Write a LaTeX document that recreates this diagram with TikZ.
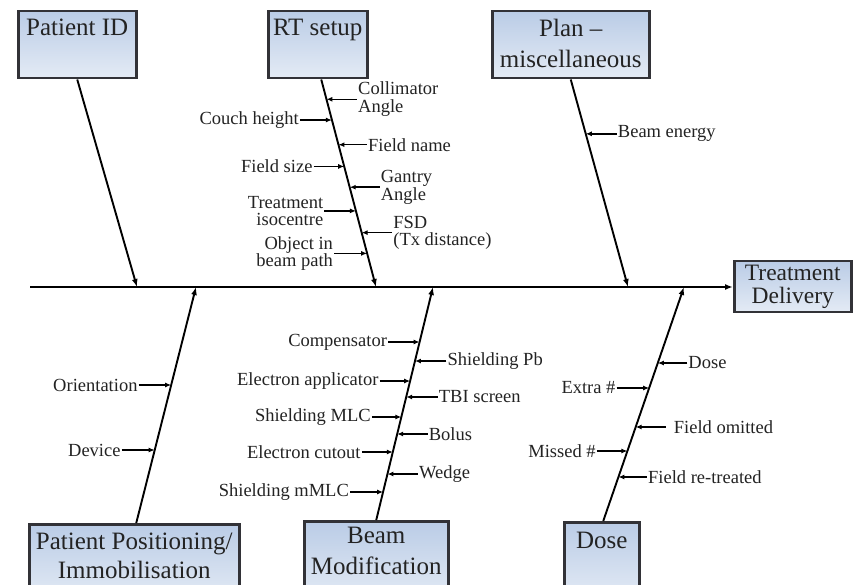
\documentclass[tikz,border=0pt]{standalone}
\usepackage{fontspec}
\setmainfont{Liberation Serif}
\usetikzlibrary{arrows.meta,calc}
\definecolor{boxtop}{RGB}{186,204,230}
\definecolor{boxbot}{RGB}{228,235,245}
\definecolor{boxline}{RGB}{50,50,55}
\definecolor{ink}{RGB}{35,35,35}
\newcommand\fbbox[4]{\parbox[c][#2][t]{#1}{\centering\rule{0pt}{#3}#4}}
\newcommand\fbR[6]{%
  \coordinate (#1p) at ($(#2)!{#4}!(#3)$);
  \node[lab,anchor=west,align=left] (#1) at ([xshift=#5pt]#1p) {#6};
  \draw[sub] (#1.west) -- (#1p);}
\newcommand\fbL[6]{%
  \coordinate (#1p) at ($(#2)!{#4}!(#3)$);
  \node[lab,anchor=east,align=right] (#1) at ([xshift=-#5pt]#1p) {#6};
  \draw[sub] (#1.east) -- (#1p);}
\begin{document}
\begin{tikzpicture}[x=1pt,y=-1pt,
  cat/.style={draw=boxline, line width=2.5pt, top color=boxtop, bottom color=boxbot,
    inner sep=0pt, text=ink, font=\fontsize{25}{30}\selectfont},
  lab/.style={font=\fontsize{18.5}{17.5}\selectfont, text=ink, inner sep=1pt},
  sub/.style={draw=black, line width=1.4pt, -{Latex[length=6pt,width=5pt]}},
  bone/.style={draw=black, line width=1.9pt, -{Latex[length=8pt,width=6pt]}}]
\useasboundingbox (0,0) rectangle (854,585);
\clip (0,0) rectangle (854,585);
\fill[white] (0,0) rectangle (854,585);

% category boxes
\node[cat, anchor=north west] (pid) at (17,10) {\fbbox{118pt}{67pt}{24pt}{Patient ID}};
\node[cat, anchor=north west] (rt) at (267,10) {\fbbox{99pt}{67pt}{24pt}{RT setup}};
\node[cat, anchor=north west, font=\fontsize{25}{31}\selectfont] (pl) at (491,10) {\fbbox{157pt}{67pt}{25pt}{Plan --\\miscellaneous}};
\node[cat, anchor=north west, font=\fontsize{23.5}{23}\selectfont] (td) at (733,260) {\fbbox{117pt}{51pt}{19pt}{Treatment\\Delivery}};
\node[cat, anchor=north west, font=\fontsize{25}{29}\selectfont] (pp) at (28,523) {\fbbox{210pt}{77pt}{25pt}{Patient Positioning/\\Immobilisation}};
\node[cat, anchor=north west, font=\fontsize{25}{31}\selectfont] (bm) at (303,520) {\fbbox{144pt}{80pt}{22pt}{Beam\\Modification}};
\node[cat, anchor=north west] (dose) at (563,521) {\fbbox{75pt}{79pt}{26pt}{Dose}};

% spine
\coordinate (spL) at (30,287);
\draw[bone] (spL) -- (td.west |- spL);

% bone ends on the spine
\coordinate (pidE) at (137,287);
\coordinate (rtE) at (376,287);
\coordinate (plE) at (628,287);
\coordinate (ppE) at (196,287);
\coordinate (bmE) at (433,287);
\coordinate (doE) at (684,287);

% bone starts at boxes
\coordinate (pidS) at (pid.south);
\coordinate (rtS) at ([xshift=3.5pt]rt.south);
\coordinate (plS) at (pl.south);
\coordinate (ppS) at ([xshift=2pt]pp.north);
\coordinate (bmS) at (bm.north);
\coordinate (doS) at ([xshift=1.5pt]dose.north);

\draw[bone] (pidS) -- (pidE);
\draw[bone] (rtS) -- (rtE);
\draw[bone] (plS) -- (plE);
\draw[bone] (ppS) -- (ppE);
\draw[bone] (bmS) -- (bmE);
\draw[bone] (doS) -- (doE);

% RT setup causes
\fbR{c1}{rtS}{rtE}{(97-77)/210}{30.5}{Collimator\\Angle}
\fbL{c2}{rtS}{rtE}{(118-77)/210}{32}{Couch height}
\fbR{c3}{rtS}{rtE}{(143-77)/210}{28.5}{Field name}
\fbL{c4}{rtS}{rtE}{(165-77)/210}{30.5}{Field size}
\fbR{c5}{rtS}{rtE}{(186-77)/210}{30}{Gantry\\Angle}
\fbL{c6}{rtS}{rtE}{(210-77)/210}{31.5}{Treatment\\isocentre}
\fbR{c7}{rtS}{rtE}{(232-77)/210}{30.5}{FSD\\(Tx distance)}
\fbL{c8}{rtS}{rtE}{(253-77)/210}{33}{Object in\\beam path}

% Plan causes
\fbR{p1}{plS}{plE}{(132-77)/210}{31}{Beam energy}

% Patient positioning causes
\fbL{q1}{ppS}{ppE}{(523-385)/236}{32.5}{Orientation}
\fbL{q2}{ppS}{ppE}{(523-450)/236}{33}{Device}

% Beam modification causes
\fbL{b1}{bmS}{bmE}{(520-342)/233}{31.5}{Compensator}
\fbR{b2}{bmS}{bmE}{(520-361)/233}{31.5}{Shielding Pb}
\fbL{b3}{bmS}{bmE}{(520-381)/233}{30.5}{Electron applicator}
\fbR{b4}{bmS}{bmE}{(520-397)/233}{31.5}{TBI screen}
\fbL{b5}{bmS}{bmE}{(520-417)/233}{29.5}{Shielding MLC}
\fbR{b6}{bmS}{bmE}{(520-434)/233}{30.5}{Bolus}
\fbL{b7}{bmS}{bmE}{(520-452)/233}{31}{Electron cutout}
\fbR{b8}{bmS}{bmE}{(520-474)/233}{30.5}{Wedge}
\fbL{b9}{bmS}{bmE}{(520-492)/233}{33}{Shielding mMLC}

% Dose causes
\fbR{d1}{doS}{doE}{(521-363)/234}{29.5}{Dose}
\fbL{d2}{doS}{doE}{(521-388)/234}{32.5}{Extra \#}
\coordinate (d3p) at ($(doS)!{(521-427)/234}!(doE)$);
\node[lab,anchor=west,align=left,inner xsep=8pt] (d3) at ([xshift=30pt]d3p) {Field omitted};
\draw[sub] (d3.west) -- (d3p);
\fbL{d4}{doS}{doE}{(521-451)/234}{30.5}{Missed \#}
\fbR{d5}{doS}{doE}{(521-477)/234}{28.5}{Field re-treated}
\end{tikzpicture}
\end{document}
